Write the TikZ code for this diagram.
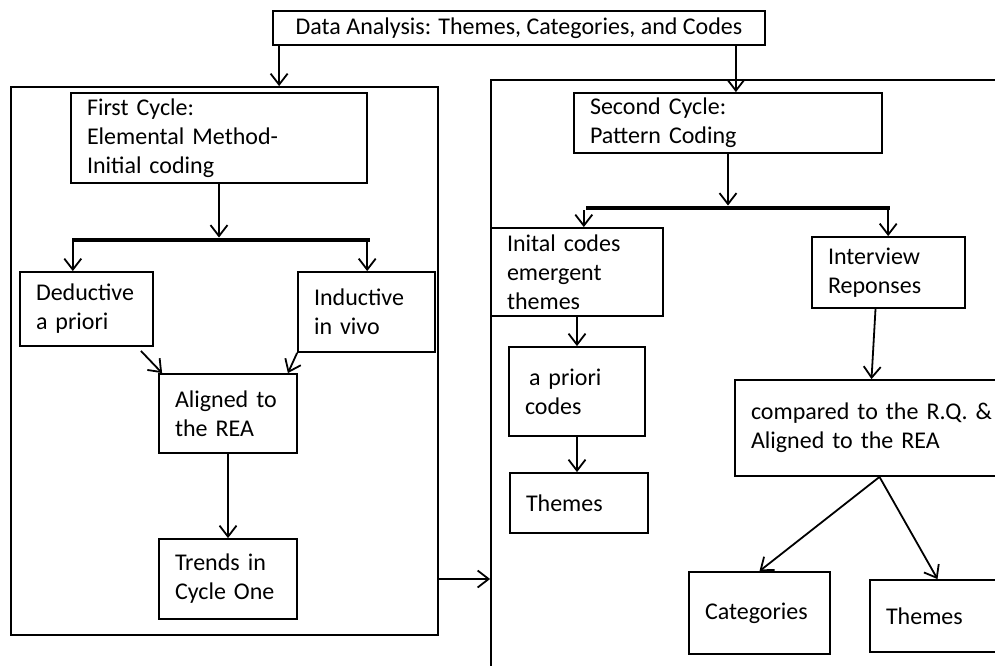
\documentclass[tikz,border=0pt]{standalone}
\usepackage{fontspec}
\setmainfont{Carlito}
\usetikzlibrary{arrows.meta}

\tikzset{
  cbox/.style 2 args={draw, line width=1.8pt, minimum width=#1, minimum height=#2,
    text width=#1pt-32pt, inner xsep=16pt, inner ysep=0pt, align=left},
  titlebox/.style 2 args={draw, line width=1.8pt, minimum width=#1, minimum height=#2, inner sep=0pt},
  cyclebox/.style 2 args={draw, line width=1.8pt, minimum width=#1, minimum height=#2, inner sep=0pt},
  splitbar/.style={fill, inner sep=0pt, minimum height=4.5pt, minimum width=#1},
  arr/.style={line width=1.8pt, -{Straight Barb[length=11pt,width=17pt]}}
}

\begin{document}
\begin{tikzpicture}[x=1pt, y=-1pt, every node/.style={font=\fontsize{24}{29}\selectfont}]
      \useasboundingbox (0,0) rectangle (995,666);
      \clip (0,0) rectangle (995,666);
      % title and the two cycle frames
      \node[titlebox={492}{34}] (title) at (519,28) {Data Analysis: Themes, Categories, and Codes};
      \node[cyclebox={427}{548}] (cycleone) at (224.5,361) {};
      \node[cyclebox={530}{600}] (cycletwo) at (756,380) {};
      % first cycle
      \node[cbox={296}{90}] (firstc) at (219,138) {First Cycle:\\Elemental Method-\\Initial coding};
      \node[splitbar=298] (splitone) at (221,240) {};
      \node[cbox={133}{74}] (deduct) at (86.5,309) {Deductive\\a priori};
      \node[cbox={137}{80}] (induct) at (366.5,312) {Inductive\\in vivo};
      \node[cbox={138}{79}] (alignone) at (228,413.5) {Aligned to\\the REA};
      \node[cbox={138}{80}] (trends) at (228,579) {Trends in\\Cycle One};
      % second cycle
      \node[cbox={308}{60}] (secondc) at (728,123) {Second Cycle:\\Pattern Coding};
      \node[splitbar=304] (splittwo) at (738,208) {};
      \node[cbox={172}{88}] (initial) at (577,272) {Inital codes\\emergent\\themes};
      \node[cbox={153}{71}] (interview) at (888.5,272.5) {Interview\\Reponses};
      \node[cbox={136}{89}] (apriori) at (577,391.5) {\hspace{4pt}a priori\\codes};
      \node[cbox={138}{60}] (themesone) at (579,503) {Themes};
      \node[cbox={275}{96}] (compared) at (872.5,428) {compared to the R.Q. \&\\Aligned to the REA};
      \node[cbox={141}{82}] (categ) at (759.5,613) {Categories};
      \node[cbox={135}{72}] (themestwo) at (937.5,616) {Themes};
      % connectors
      \draw[arr] ([xshift=7pt]title.south west) -- ([xshift=7pt]title.south west |- cycleone.north);
      \draw[arr] ([xshift=-30pt]title.south east) -- ([xshift=-30pt]title.south east |- secondc.north);
      \draw[arr] (firstc.south) -- (firstc.south |- splitone.north);
      \draw[arr] ([xshift=1pt]splitone.south west) -- ([xshift=1pt]splitone.south west |- deduct.north);
      \draw[arr] ([xshift=-3pt]splitone.south east) -- ([xshift=-3pt]splitone.south east |- induct.north);
      \draw[arr] ([xshift=-13pt,yshift=-4pt]deduct.south east) -- ([xshift=4pt]alignone.north west);
      \draw[arr] (induct.south west) -- ([xshift=-10pt]alignone.north east);
      \draw[arr] (alignone) -- (trends);
      \draw[arr] (trends -| cycleone.east) -- (trends -| cycletwo.west);
      \draw[arr] (secondc.south) -- (secondc.south |- splittwo.north);
      \draw[arr] ([xshift=-2pt]splittwo.south west) -- ([xshift=-2pt]splittwo.south west |- initial.north);
      \draw[arr] ([xshift=-2pt]splittwo.south east) -- ([xshift=-2pt]splittwo.south east |- interview.north);
      \draw[arr] (initial.south) -- (initial.south |- apriori.north);
      \draw[arr] (apriori.south) -- (apriori.south |- themesone.north);
      \draw[arr] ([xshift=-13pt]interview.south) -- ([xshift=-1pt]compared.north);
      \draw[arr] ([xshift=7pt]compared.south) -- (categ.north);
      \draw[arr] ([xshift=7pt]compared.south) -- (themestwo.north);
    \end{tikzpicture}
\end{document}
